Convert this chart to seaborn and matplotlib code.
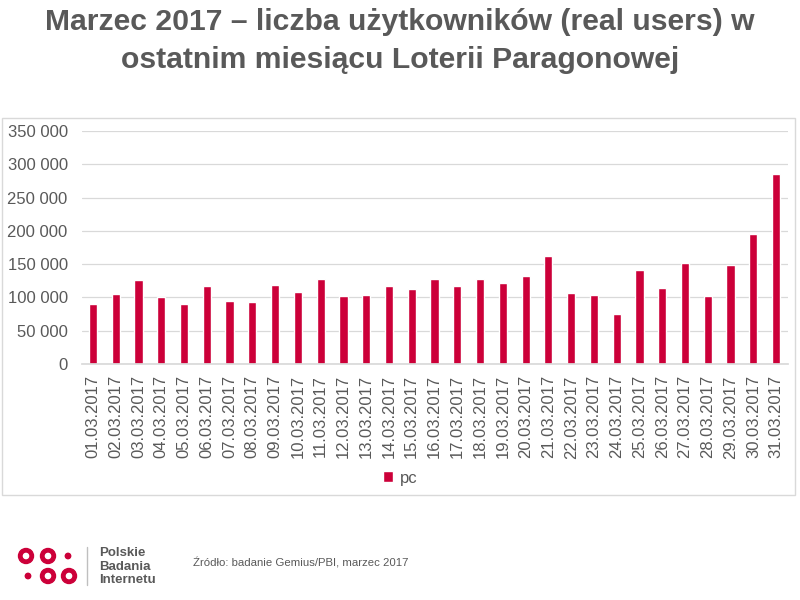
"""
Marzec 2017 - daily real users, Loteria Paragonowa (Gemius/PBI)
"""
import matplotlib
matplotlib.use('Agg')
import matplotlib.pyplot as plt
import matplotlib.patches as mpatches
from matplotlib.ticker import FuncFormatter, MultipleLocator
import pandas as pd
import seaborn as sns

days = [f'{d:02d}.03.2017' for d in range(1, 32)]
users = [90500, 105000, 126000, 101000, 90500, 116500, 94500, 93500,
         119000, 108500, 127000, 102500, 104000, 116500, 113000, 127000,
         117500, 128000, 122000, 132500, 163000, 106000, 104000, 75500,
         141000, 114500, 151500, 102500, 149000, 195000, 286000]
series_name = 'pc'

title = ('Marzec 2017 – liczba użytkowników (real users) w\n'
         'ostatnim miesiącu Loterii Paragonowej')
source = 'Źródło: badanie Gemius/PBI, marzec 2017'
logo_words = ['Polskie', 'Badania', 'Internetu']

RED = '#CC0039'
GREY = '#595959'

sns.set_theme(style='white')
plt.rcParams['font.family'] = ['Liberation Sans', 'DejaVu Sans']

df = pd.DataFrame({'day': days, 'users': users})

fig = plt.figure(figsize=(8, 6), dpi=100)
ax = fig.add_axes([0.1019, 0.3933, 0.8825, 0.3883])

sns.barplot(data=df, x='day', y='users', color=RED, width=0.36,
            saturation=1, label=series_name, ax=ax)

ax.set_ylim(0, 350000)
ax.yaxis.set_major_locator(MultipleLocator(50000))
ax.yaxis.set_major_formatter(
    FuncFormatter(lambda v, _: f'{int(v):,}'.replace(',', ' ')))
ax.grid(axis='y', color='#D9D9D9', linewidth=0.9)
ax.set_axisbelow(True)
ax.set_xlabel('')
ax.set_ylabel('')
for s in ['top', 'right', 'left']:
    ax.spines[s].set_visible(False)
ax.spines['bottom'].set_color('#D9D9D9')
ax.tick_params(axis='y', length=0, pad=10, labelsize=12, labelcolor=GREY)
ax.tick_params(axis='x', length=0, pad=8, labelsize=12, labelcolor=GREY,
               rotation=90)

ax.legend(loc='center', bbox_to_anchor=(400 / 800, 1 - 478 / 600),
          bbox_transform=fig.transFigure, frameon=False, fontsize=12,
          handlelength=0.6, handleheight=0.6, handletextpad=0.4,
          labelcolor=GREY)

# chart border
fig.patches.append(mpatches.Rectangle((2 / 800, 1 - 495 / 600), 793 / 800,
                                      377 / 600, transform=fig.transFigure,
                                      fill=False, edgecolor='#D9D9D9',
                                      linewidth=1))

fig.text(0.5, 1 - 41 / 600, title, ha='center', va='center', fontsize=21.7,
         fontweight='bold', color=GREY, linespacing=1.42)


# logo, drawn in inches so circles stay round
def inch(x, y):
    return x / 100, (600 - y) / 100


for cx, cy in [(26, 556), (48, 556), (48, 576), (69, 576)]:
    fig.patches.append(mpatches.Circle(inch(cx, cy), 0.075,
                                       transform=fig.dpi_scale_trans,
                                       color=RED))
    fig.patches.append(mpatches.Circle(inch(cx, cy), 0.026,
                                       transform=fig.dpi_scale_trans,
                                       color='white'))
for cx, cy in [(68, 556), (28, 576)]:
    fig.patches.append(mpatches.Circle(inch(cx, cy), 0.027,
                                       transform=fig.dpi_scale_trans,
                                       color=RED))
fig.add_artist(plt.Line2D([87 / 800, 87 / 800], [1 - 547 / 600, 1 - 585 / 600],
                          color='#BFBFBF', linewidth=1))
for i, word in enumerate(logo_words):
    fig.text(99 / 800, 1 - (553 + 13.5 * i) / 600, word, ha='left',
             va='center', fontsize=9.5, fontweight='bold', color=GREY)

fig.text(193 / 800, 1 - 563 / 600, source, ha='left', va='center',
         fontsize=8.2, color=GREY)

plt.savefig('out.png', dpi=100)
